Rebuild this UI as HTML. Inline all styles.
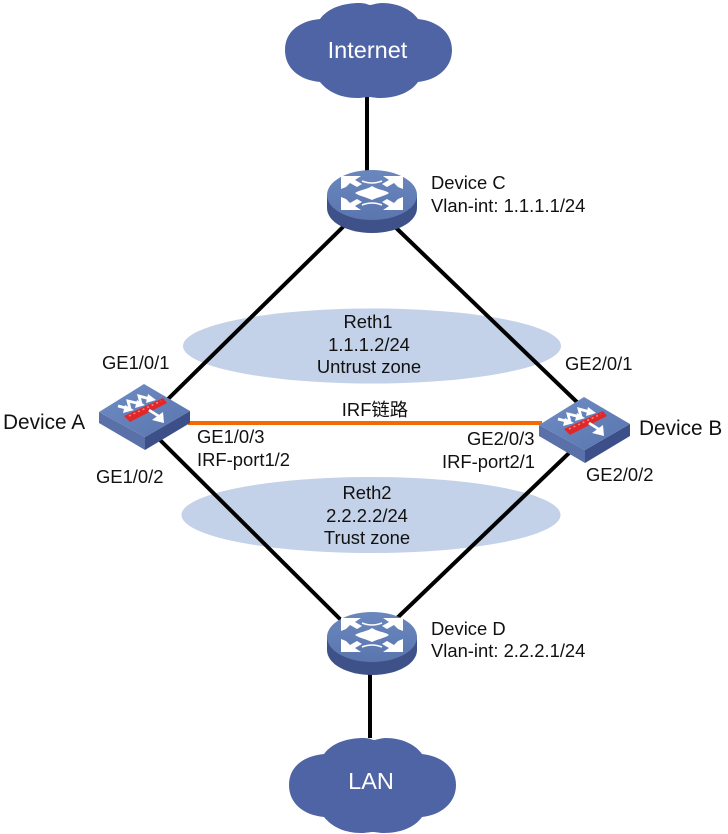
<!DOCTYPE html>
<html><head><meta charset="utf-8"><style>
html,body{margin:0;padding:0;background:#fff}
svg{display:block}
text{font-family:"Liberation Sans","Noto Sans CJK SC",sans-serif;font-size:18.4px;fill:#111}
.c{text-anchor:middle}
.w{fill:#fff;font-size:23.5px;text-anchor:middle}
.d{font-size:20.8px}
</style></head><body>
<svg width="728" height="834" viewBox="0 0 728 834" xmlns="http://www.w3.org/2000/svg">
<defs>
<linearGradient id="top" x1="0" y1="0" x2="1" y2="1"><stop offset="0" stop-color="#6f8cc4"/><stop offset="1" stop-color="#5a75ad"/></linearGradient>
<linearGradient id="rtop" x1="0" y1="0" x2="0" y2="1"><stop offset="0" stop-color="#6a87be"/><stop offset="1" stop-color="#5b76ae"/></linearGradient>
<g id="router">
<path d="M327 195V208C327 222 347 233 372 233S417 222 417 208V195Z" fill="#3e5289"/>
<ellipse cx="372" cy="195" rx="45" ry="25" fill="url(#rtop)"/>
<g fill="#fff">
<path d="M341 176H361L355 180 362 184 357 187 350 183 346 187 341 189Z"/>
<path d="M403 176H383L389 180 382 184 387 187 394 183 398 187 403 189Z"/>
<path d="M341 210H361L355 206 362 202 357 199 350 203 346 199 341 197Z"/>
<path d="M403 210H383L389 206 382 202 387 199 394 203 398 199 403 197Z"/>
<path d="M372 186C378 190 385 190 389 193 385 196 378 197 372 200 366 197 359 196 355 193 359 190 366 190 372 186Z"/>
</g>
<g fill="none" stroke="#fff" stroke-width="1.500">
<path d="M362 181Q372 185 382 181"/>
<path d="M362 205Q372 201 382 205"/>
</g>
</g>
<g id="sw">
<path d="M145 437L190 411V423L145 450Z" fill="#3c4f88"/>
<path d="M99 412L145 437V450L99 423Z" fill="#5a70a8"/>
<path d="M99 412L144 384 190 411 145 437Z" fill="url(#top)"/>
<path d="M124 416L163 398 167 403 130 422Z" fill="#e0282a"/>
<path d="M129 416L161 401" stroke="#f58a80" stroke-width="1.500" stroke-dasharray="2 3" fill="none"/>
<g fill="none" stroke="#fff" stroke-width="2.800">
<path d="M118 406L130 409 128 401 141 404 139 396 150 399"/>
<path d="M149 410L160 417"/>
</g>
<g fill="#fff">
<path d="M125 405L134 410 123 413Z"/>
<path d="M137 400L145 405 135 408Z"/>
<path d="M148 394L156 400 146 403Z"/>
<path d="M163 412L164 423 152 420Z"/>
</g>
</g>
<path id="cloud" d="M0 50C0 32 14 21 35 19C43 8 58 3 75 3C81 3 83 5 85 5C87 5 92 3 97 3C112 3 126 9 133 19C152 21 167 32 167 50C167 68 152 80 133 82C126 92 112 98 95 98C90 98 87 97 84 97C80 97 78 98 72 98C56 98 43 92 35 82C14 80 0 68 0 50Z"/>
</defs>

<ellipse cx="372" cy="346" rx="189" ry="37.500" fill="#c3d1e9"/>
<ellipse cx="371" cy="515" rx="189.500" ry="38" fill="#c3d1e9"/>

<g stroke="#000" stroke-width="4" fill="none">
<path d="M367 95V172"/>
<path d="M347 223L165 402"/>
<path d="M391 223L580 405"/>
<path d="M155 435L345 624"/>
<path d="M575 447.300L395 620"/>
<path d="M370 672V738"/>
</g>
<path d="M188 423H542" stroke="#f56a00" stroke-width="4"/>

<use href="#cloud" x="285" y="0" fill="#4f64a5"/>
<use href="#cloud" x="289" y="735" fill="#4f64a5"/>
<use href="#router"/>
<use href="#router" y="442"/>
<use href="#sw"/>
<use href="#sw" x="440" y="13"/>

<text x="367.500" y="58" class="w">Internet</text>
<text x="371" y="789" class="w">LAN</text>

<text x="431" y="189">Device C</text>
<text x="431" y="212">Vlan-int: 1.1.1.1/24</text>
<text x="431" y="635">Device D</text>
<text x="431" y="657">Vlan-int: 2.2.2.1/24</text>
<text x="3" y="429" class="d">Device A</text>
<text x="639" y="435" class="d">Device B</text>
<text x="368" y="328" class="c">Reth1</text>
<text x="369" y="351" class="c">1.1.1.2/24</text>
<text x="369" y="373" class="c">Untrust zone</text>
<text x="367" y="499" class="c">Reth2</text>
<text x="367" y="522" class="c">2.2.2.2/24</text>
<text x="367" y="544" class="c">Trust zone</text>
<text x="102" y="369">GE1/0/1</text>
<text x="565" y="370">GE2/0/1</text>
<text x="96" y="483">GE1/0/2</text>
<text x="586" y="481">GE2/0/2</text>
<text x="197" y="443">GE1/0/3</text>
<text x="197" y="466">IRF-port1/2</text>
<text x="467" y="445">GE2/0/3</text>
<text x="442" y="468">IRF-port2/1</text>
<text x="375" y="416" class="c">IRF链路</text>
</svg>
</body></html>
